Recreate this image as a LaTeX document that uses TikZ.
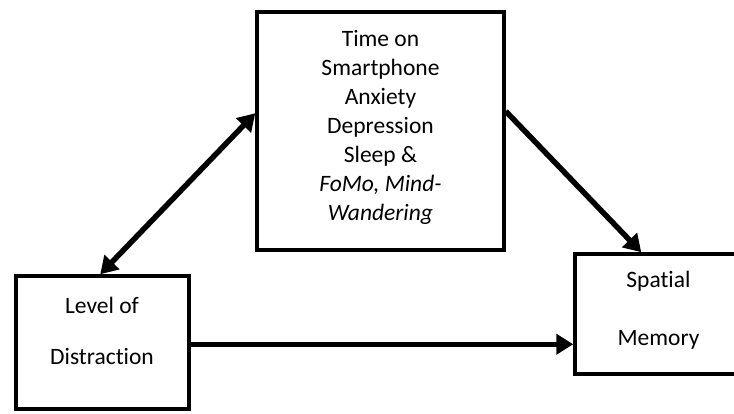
\documentclass[tikz,border=0pt]{standalone}
\usepackage{fontspec}
\setmainfont{Carlito}[Ligatures=NoCommon]
\usetikzlibrary{arrows.meta,calc}
\begin{document}
\begin{tikzpicture}[x=1pt,y=-1pt,
  box/.style={draw=black,line width=3.5pt,inner sep=0pt,fill=white},
  txt/.style={inner sep=0pt,align=center,anchor=base},
  conn/.style={line width=5.5pt,-{Triangle[length=17pt,width=20pt]}},
  dconn/.style={line width=5.5pt,{Triangle[length=17pt,width=20pt]}-{Triangle[length=17pt,width=20pt]}}]
\clip (0,0) rectangle (734,413);
\fill[white] (0,0) rectangle (734,413);
\node[box,minimum width=247pt,minimum height=238pt] (top) at (380.5,131) {};
\node[box,minimum width=173pt,minimum height=133pt] (level) at (102.5,342.5) {};
\node[box,minimum width=167pt,minimum height=120pt] (spatial) at (658.5,314) {};
\node[txt,font={\fontsize{23.5}{29}\selectfont}] (toptext) at (380.5,220)
  {Time on\\Smartphone\\Anxiety\\Depression\\Sleep \&\\\textit{FoMo, Mind-}\\\textit{Wandering}};
\node[txt,font={\fontsize{23.5}{51}\selectfont}] (leveltext) at (102,364) {Level of\\Distraction};
\node[txt,font={\fontsize{23.5}{58}\selectfont}] (spatialtext) at (658.5,345) {Spatial\\Memory};
\coordinate (a1) at ([yshift=-103pt]top.north west);
\coordinate (a2) at ([xshift=86pt]level.north west);
\coordinate (b1) at ([yshift=-101pt]top.north east);
\coordinate (b2) at ([xshift=68pt]spatial.north west);
\coordinate (c1) at ([yshift=-70pt]level.north east);
\coordinate (c2) at ([yshift=-92pt]spatial.north west);
\draw[dconn] (a2) -- (a1);
\draw[conn] (b1) -- (b2);
\draw[conn] (c1) -- (c2);
\end{tikzpicture}
\end{document}
